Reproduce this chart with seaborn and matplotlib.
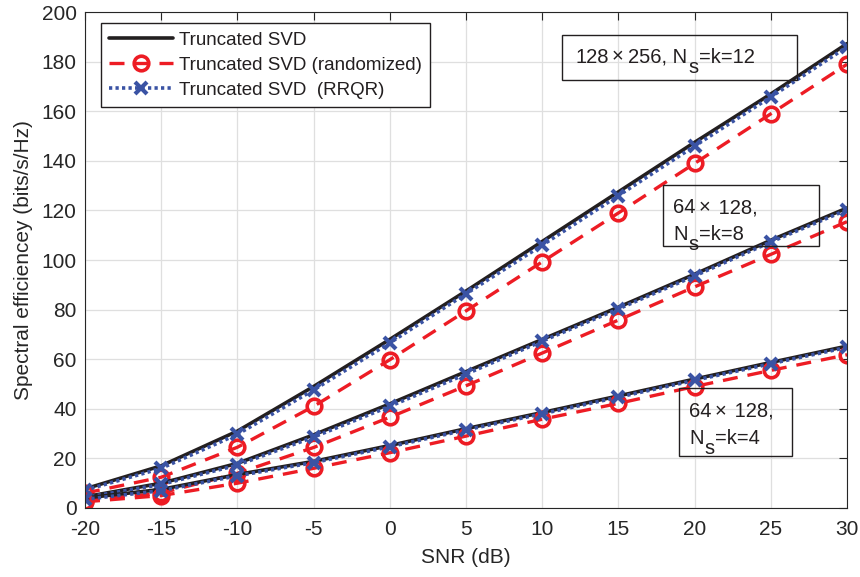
import numpy as np
import pandas as pd
import matplotlib
matplotlib.use("Agg")
import matplotlib.pyplot as plt
from matplotlib.patches import Rectangle
from matplotlib.transforms import IdentityTransform
import seaborn as sns

snr_db = [-20, -15, -10, -5, 0, 5, 10, 15, 20, 25, 30]

# 128x256, Ns = k = 12
svd_k12 = [7.7, 17.0, 31.0, 49.0, 68.0, 87.5, 107.5, 127.5, 147.5, 167.0, 187.3]
rand_k12 = [6.0, 12.4, 24.5, 41.0, 59.8, 79.5, 99.3, 119.0, 139.0, 159.0, 179.0]
rrqr_k12 = [7.2, 16.0, 29.7, 47.6, 66.6, 86.4, 106.0, 126.0, 146.0, 165.8, 186.0]

# 64x128, Ns = k = 8
svd_k8 = [4.5, 10.0, 18.0, 29.5, 42.0, 55.0, 68.0, 81.0, 94.3, 108.0, 121.0]
rand_k8 = [3.0, 6.0, 14.0, 24.4, 36.6, 49.3, 62.5, 75.8, 89.2, 102.3, 115.5]
rrqr_k8 = [4.2, 9.5, 17.3, 28.6, 41.0, 54.0, 67.3, 80.3, 93.6, 107.3, 120.3]

# 64x128, Ns = k = 4
svd_k4 = [4.0, 7.5, 13.5, 18.8, 25.2, 32.0, 38.5, 45.2, 52.0, 58.7, 65.3]
rand_k4 = [2.5, 5.0, 10.0, 16.0, 22.3, 29.0, 35.8, 42.2, 49.0, 55.5, 61.8]
rrqr_k4 = [3.5, 7.0, 13.0, 18.3, 24.7, 31.5, 38.0, 44.7, 51.5, 58.2, 64.8]

method_labels = ["Truncated SVD", "Truncated SVD (randomized)", "Truncated SVD  (RRQR)"]
x_ticks = list(range(-20, 31, 5))
y_ticks = list(range(0, 201, 20))

sns.set_theme(style="white")
plt.rcParams["font.family"] = ["Liberation Sans", "DejaVu Sans"]

ink = "#262626"
black = "#231F20"
red = "#ED1C24"
blue = "#3A53A4"

styles = {
    method_labels[0]: dict(color=black, linestyle="-", linewidth=2.6, marker=None),
    method_labels[1]: dict(color=red, linestyle=(0, (4.5, 3.0)), linewidth=2.4, marker="o",
                           markersize=10.5, markerfacecolor="none", markeredgewidth=2.6,
                           markeredgecolor=red),
    method_labels[2]: dict(color=blue, linestyle=(0, (0.9, 0.9)), linewidth=2.6, marker="x",
                           markersize=8, markeredgewidth=3.0, markeredgecolor=blue),
}

groups = [
    (svd_k12, rand_k12, rrqr_k12),
    (svd_k8, rand_k8, rrqr_k8),
    (svd_k4, rand_k4, rrqr_k4),
]

fig = plt.figure(figsize=(8.6, 5.77), dpi=100)
ax = fig.add_axes([0.0988, 0.1196, 0.8862, 0.8594])

handles = {}
for series in groups:
    for label, values in zip(method_labels, series):
        df = pd.DataFrame({"snr": snr_db, "se": values})
        sns.lineplot(data=df, x="snr", y="se", ax=ax, legend=False, **styles[label])
        handles[label] = ax.lines[-1]

ax.set_xlim(-20, 30)
ax.set_ylim(0, 200)
ax.set_xticks(x_ticks)
ax.set_yticks(y_ticks)
ax.set_xticklabels([str(v) for v in x_ticks])
ax.set_yticklabels([str(v) for v in y_ticks])
ax.grid(True, color="#DFDFDF", linewidth=0.9)
ax.set_axisbelow(True)
ax.tick_params(direction="in", length=6, width=0.8, colors=ink, labelsize=15,
               top=True, right=True, labelcolor=ink)
ax.tick_params(axis="x", pad=9)
ax.tick_params(axis="y", pad=6)
for sp in ax.spines.values():
    sp.set_color(ink)
    sp.set_linewidth(0.8)

ax.set_xlabel("SNR (dB)", fontsize=15, color=ink, labelpad=6)
ax.set_ylabel("Spectral efficiencey (bits/s/Hz)", fontsize=15, color=ink, labelpad=6)

leg = ax.legend([handles[l] for l in method_labels], method_labels, loc="upper left",
                bbox_to_anchor=(0.021, 0.978), fontsize=13.5, frameon=True, fancybox=False,
                framealpha=1.0, handlelength=3.4, handletextpad=0.3, borderpad=0.45,
                labelspacing=0.42, borderaxespad=0.0)
leg.get_frame().set_edgecolor(black)
leg.get_frame().set_linewidth(1.0)
for t in leg.get_texts():
    t.set_color(black)

renderer = fig.canvas.get_renderer()


def note_box(x0, x1, y0, y1):
    """Transparent outlined box, given in data units."""
    ax.add_patch(Rectangle((x0, y0), x1 - x0, y1 - y0, facecolor="none",
                           edgecolor=black, linewidth=1.0, zorder=5))


def note_line(x, y, pieces, size=14.5):
    """Write text pieces left to right from a data-space baseline point.
    Each piece is (string, drop_px, gap_before_px)."""
    px, py = ax.transData.transform((x, y))
    for s, drop, gap in pieces:
        t = fig.text(px + gap, py - drop, s, transform=IdentityTransform(), fontsize=size,
                     color=black, ha="left", va="baseline", zorder=6)
        px = t.get_window_extent(renderer).x1


times = "\u00d7"

note_box(11.30, 26.71, 172.6, 190.7)
note_line(12.15, 179.6, [("128", 0, 0), (times, 0, 3), ("256, N", 0, 5),
                         ("s", 10, 1), ("=k=12", 0, 0)])

note_box(17.90, 28.18, 105.6, 130.2)
note_line(18.6, 118.8, [("64", 0, 0), (times, 0, 3), (" 128,", 0, 2)])
note_line(18.6, 108.1, [("N", 0, 0), ("s", 10, 1), ("=k=8", 0, 0)])

note_box(19.00, 26.37, 21.0, 48.3)
note_line(19.65, 36.8, [("64", 0, 0), (times, 0, 3), (" 128,", 0, 2)])
note_line(19.65, 25.8, [("N", 0, 0), ("s", 10, 1), ("=k=4", 0, 0)])

fig.savefig("out.png", dpi=100)
